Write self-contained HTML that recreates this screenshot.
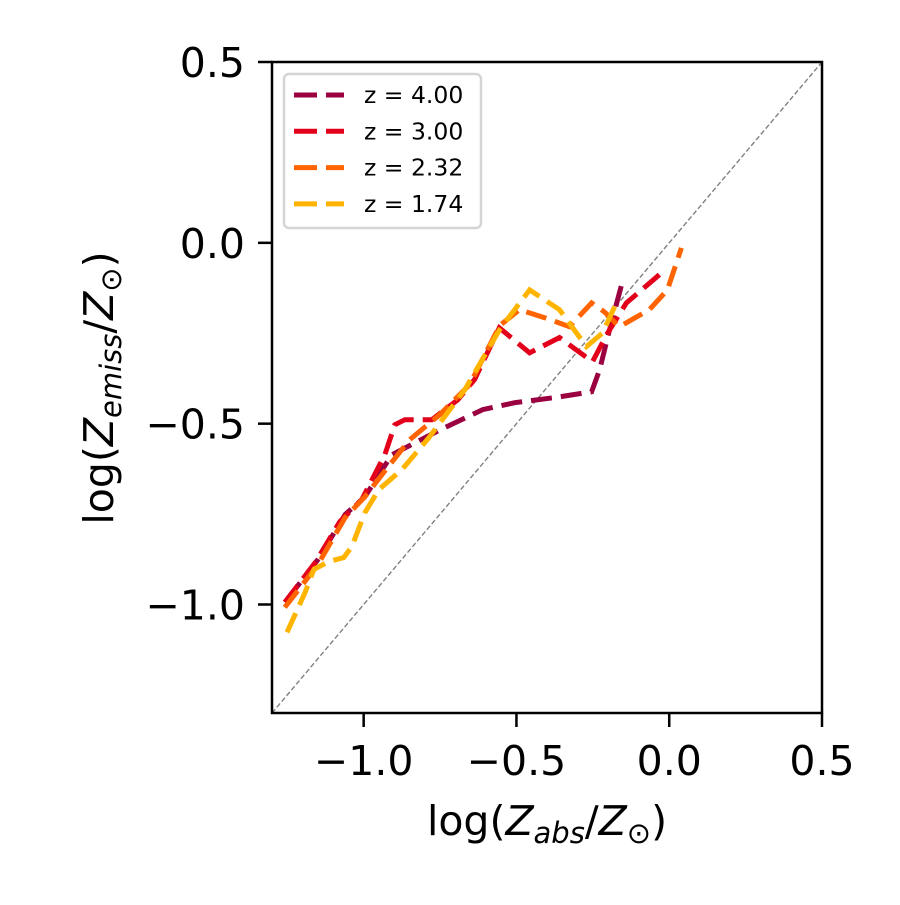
<!DOCTYPE html>
<html><head><meta charset="utf-8"><style>
body{margin:0;background:#fff;}
svg text{font-family:"DejaVu Sans","Liberation Sans",sans-serif;}
</style></head><body>
<svg id="chart" width="900" height="900">
<rect width="900" height="900" fill="#fff"/>
<g id="plot"></g>
<g id="axes"></g>
</svg>
<script>
const xTicks=[-1.0,-0.5,0.0,0.5];
const yTicks=[0.5,0.0,-0.5,-1.0];
const labels=["z = 4.00","z = 3.00","z = 2.32","z = 1.74"];
const colors=["#9b0040","#e3001b","#ff6400","#ffb400"];
const x4=[-1.25,-1.15,-1.06,-0.996,-0.908,-0.75,-0.61,-0.506,-0.375,-0.254,-0.228,-0.195,-0.156];
const y4=[-0.986,-0.876,-0.751,-0.702,-0.586,-0.517,-0.461,-0.442,-0.428,-0.412,-0.351,-0.240,-0.116];
const x3=[-1.258,-1.156,-1.078,-1.006,-0.931,-0.898,-0.865,-0.777,-0.692,-0.637,-0.556,-0.457,-0.359,-0.251,-0.205,-0.140,-0.032];
const y3=[-0.994,-0.881,-0.771,-0.710,-0.586,-0.503,-0.489,-0.489,-0.434,-0.378,-0.235,-0.304,-0.262,-0.329,-0.254,-0.166,-0.088];
const x2=[-1.258,-1.150,-1.061,-0.996,-0.914,-0.849,-0.751,-0.653,-0.555,-0.490,-0.408,-0.326,-0.254,-0.212,-0.163,-0.065,-0.006,0.040];
const y2=[-1.008,-0.890,-0.760,-0.702,-0.613,-0.544,-0.475,-0.392,-0.229,-0.185,-0.207,-0.232,-0.166,-0.191,-0.232,-0.185,-0.130,-0.014];
const x1=[-1.251,-1.192,-1.163,-1.114,-1.065,-1.039,-0.996,-0.950,-0.875,-0.787,-0.669,-0.555,-0.457,-0.359,-0.271,-0.218,-0.173];
const y1=[-1.077,-0.967,-0.903,-0.881,-0.870,-0.840,-0.746,-0.682,-0.627,-0.539,-0.406,-0.240,-0.130,-0.185,-0.287,-0.249,-0.166];
const series=[[x4,y4],[x3,y3],[x2,y2],[x1,y1]];
const X0=272,X1=822,Y0=713,Y1=62,MIN=-1.3,MAX=0.5;
const sx=v=>X0+(v-MIN)/(MAX-MIN)*(X1-X0);
const sy=v=>Y0-(v-MIN)/(MAX-MIN)*(Y0-Y1);
const NS="http://www.w3.org/2000/svg";
function mk(t,a,p){const e=document.createElementNS(NS,t);for(const k in a)e.setAttribute(k,a[k]);p.appendChild(e);return e;}
const plot=document.getElementById('plot'),axes=document.getElementById('axes');
const diag=mk('line',{x1:sx(MIN),y1:sy(MIN),x2:sx(MAX),y2:sy(MAX),stroke:'#808080','stroke-width':1.4,'stroke-dasharray':'5,2.5'},plot);


series.forEach((s,i)=>{
 const d=s[0].map((v,j)=>(j?'L':'M')+sx(v).toFixed(1)+','+sy(s[1][j]).toFixed(1)).join('');
 const p=mk('path',{d:d,fill:'none',stroke:colors[i],'stroke-width':5,'stroke-dasharray':'21,9'},plot);
 
 
});
const frame=mk('rect',{x:X0,y:Y1,width:X1-X0,height:Y0-Y1,fill:'none',stroke:'#000','stroke-width':2.5},axes);


xTicks.forEach(v=>{
 mk('line',{x1:sx(v),x2:sx(v),y1:Y0,y2:Y0+14,stroke:'#000','stroke-width':2.5},axes);
 const t=mk('text',{x:sx(v),y:Y0+62,'text-anchor':'middle','font-size':41},axes);
 t.textContent=v.toFixed(1).replace('-','\u2212');
 
 
});
yTicks.forEach(v=>{
 mk('line',{x1:X0-14,x2:X0,y1:sy(v),y2:sy(v),stroke:'#000','stroke-width':2.5},axes);
 const t=mk('text',{x:X0-27,y:sy(v)+15,'text-anchor':'end','font-size':41},axes);
 t.textContent=v.toFixed(1).replace('-','\u2212');
 
 
});
const xl=mk('text',{x:547,y:835,'text-anchor':'middle','font-size':41},axes);
xl.innerHTML='log(<tspan font-style="italic">Z</tspan><tspan font-style="italic" font-size="29" dy="8">abs</tspan><tspan dy="-8">/</tspan><tspan font-style="italic">Z</tspan><tspan font-size="29" dy="8">\u2299</tspan><tspan dy="-8">)</tspan>';


const yl=mk('text',{x:0,y:0,'text-anchor':'middle','font-size':41,transform:'translate(113,388) rotate(-90)'},axes);
yl.innerHTML='log(<tspan font-style="italic">Z</tspan><tspan font-style="italic" font-size="29" dy="8">emiss</tspan><tspan dy="-8">/</tspan><tspan font-style="italic">Z</tspan><tspan font-size="29" dy="8">\u2299</tspan><tspan dy="-8">)</tspan>';


const lg=mk('g',{},axes);


mk('rect',{x:284,y:74,width:197,height:154,rx:5,fill:'#fff','fill-opacity':0.85,stroke:'#d5d5d5','stroke-width':2.5},lg);
labels.forEach((l,i)=>{
 const y=95+i*36.3;
 const ln=mk('line',{x1:294,x2:344,y1:y,y2:y,stroke:colors[i],'stroke-width':5,'stroke-dasharray':'23,9'},lg);
 
 
 const t=mk('text',{x:364,y:y+8,'font-size':23.5},lg);
 t.textContent=l;
 
 
});
</script>
</body></html>
